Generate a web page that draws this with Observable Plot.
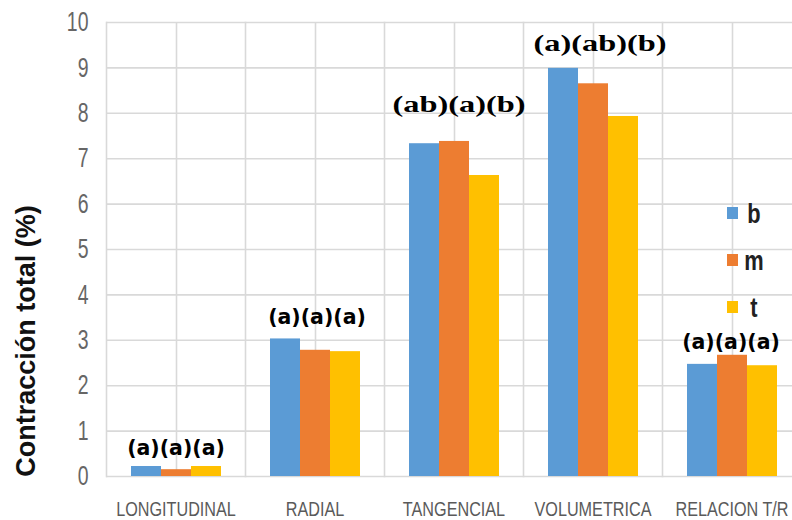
<!DOCTYPE html>
<html>
<head>
<meta charset="utf-8">
<script src="https://cdn.jsdelivr.net/npm/d3@7"></script>
<script src="https://cdn.jsdelivr.net/npm/@observablehq/plot@0.6"></script>
<style>
  body { margin: 0; background: #fff; }
  #chart svg { display: block; }
</style>
</head>
<body>
<div id="chart"></div>
<script>
// Shrinkage by direction, for the three positions in the stem
const categories = ["LONGITUDINAL", "RADIAL", "TANGENCIAL", "VOLUMETRICA", "RELACION T/R"];
const seriesNames = ["b", "m", "t"];
const valuesB = [0.22, 3.03, 7.33, 8.99, 2.47];
const valuesM = [0.15, 2.78, 7.38, 8.65, 2.67];
const valuesT = [0.22, 2.75, 6.63, 7.93, 2.44];
const groupLabels = ["(a)(a)(a)", "(a)(a)(a)", "(ab)(a)(b)", "(a)(ab)(b)", "(a)(a)(a)"];
const yTicks = [0, 1, 2, 3, 4, 5, 6, 7, 8, 9, 10];
const yTitle = "Contracción total (%)";

const seriesColors = ["#5b9bd5", "#ed7d31", "#ffc000"];
const gridColor = "#d9d9d9";

// Font stacks; each one also tags its group so it can be condensed afterwards
const tickFont = "Liberation Sans, Arial, sans-serif";
const catFont = "Arial, Liberation Sans, sans-serif";
const serifFont = "Liberation Serif, Times New Roman, serif";
const sansBoldFont = "DejaVu Sans, Verdana, sans-serif";

const seriesValues = [valuesB, valuesM, valuesT];
const rows = categories.flatMap((category, i) =>
  seriesNames.map((series, j) => ({category, series, value: seriesValues[j][i]}))
);
const groupTops = categories.map((category, i) => ({
  category,
  label: groupLabels[i],
  top: Math.max(valuesB[i], valuesM[i], valuesT[i])
}));

// Hand placement of the significance letters above each group
const labelPlacement = [
  {dx: 0, dy: -18, serif: false},
  {dx: 2, dy: -22, serif: false},
  {dx: 5, dy: -37, serif: true},
  {dx: 7, dy: -25, serif: true},
  {dx: -1, dy: -13, serif: false}
];

const labelMarks = groupTops.map((d, i) => {
  const p = labelPlacement[i];
  return Plot.text([d], {
    fx: "category",
    y: "top",
    text: "label",
    dx: p.dx,
    dy: p.dy,
    fill: "#000",
    fontWeight: "bold",
    fontFamily: p.serif ? serifFont : sansBoldFont,
    fontSize: p.serif ? 24 : 20.5
  });
});

const chart = Plot.plot({
  width: 792,
  height: 520,
  marginLeft: 104,
  marginRight: 0,
  marginTop: 22,
  marginBottom: 44,
  style: {fontFamily: "Liberation Sans, Arial, sans-serif", background: "#fff"},
  fx: {domain: categories, range: [104, 802], padding: 0, axis: null, label: null},
  x: {domain: seriesNames, paddingInner: 0, paddingOuter: 0.75, axis: null},
  y: {domain: [0, 10], axis: null},
  color: {domain: seriesNames, range: seriesColors},
  marks: [
    Plot.gridY(yTicks, {stroke: gridColor, strokeOpacity: 1, strokeWidth: 1.6}),
    Plot.frame({anchor: "left", stroke: gridColor, strokeOpacity: 1, strokeWidth: 1.6}),
    Plot.ruleX(["m"], {stroke: gridColor, strokeOpacity: 1, strokeWidth: 1.6}),
    Plot.barY(rows, {fx: "category", x: "series", y: "value", fill: "series"}),
    Plot.axisY(yTicks, {
      tickSize: 0, tickPadding: 18, label: null,
      fontSize: 27, fontFamily: tickFont, color: "#666"
    }),
    Plot.axisFx({
      anchor: "bottom", tickSize: 0, tickPadding: 25, label: null,
      fontSize: 20.5, fontFamily: catFont, color: "#5a5a5a"
    }),
    ...labelMarks
  ]
});

document.getElementById("chart").appendChild(chart);

const svg = d3.select(chart);

// Scale a text horizontally about its own anchor point;
// a numeric x is folded into the transform, y (often in em) stays as is
function stretchX(node, sx) {
  let t = node.getAttribute("transform") || "";
  const xAttr = node.getAttribute("x");
  if (xAttr !== null && isFinite(+xAttr)) {
    node.removeAttribute("x");
    t = `${t} translate(${+xAttr},0)`;
  }
  node.setAttribute("transform", `${t} scale(${sx},1)`);
}

svg.selectAll(`g[font-family="${tickFont}"] text`).each(function () { stretchX(this, 0.72); });
svg.selectAll(`g[font-family="${catFont}"] text`).each(function () { stretchX(this, 0.79); });
svg.selectAll(`g[font-family="${serifFont}"] text`).each(function () { stretchX(this, 1.35); });

// Rotated axis title
svg.append("text")
  .attr("transform", "translate(35,341) rotate(-90)")
  .attr("text-anchor", "middle")
  .attr("font-family", "Liberation Sans, Arial, sans-serif")
  .attr("font-weight", "bold")
  .attr("font-size", 27)
  .attr("fill", "#111")
  .text(yTitle);

// Legend inside the plot area, on the right
const color = chart.scale("color");
const legend = svg.append("g").attr("transform", "translate(727,213)");
seriesNames.forEach((name, i) => {
  const row = legend.append("g").attr("transform", `translate(0,${i * 47})`);
  row.append("rect")
    .attr("x", 0).attr("y", -6)
    .attr("width", 11).attr("height", 12)
    .attr("fill", color.apply(name));
  const label = row.append("text")
    .attr("x", 27).attr("dy", "0.36em")
    .attr("font-family", "Liberation Sans, Arial, sans-serif")
    .attr("font-weight", "bold")
    .attr("font-size", 28)
    .attr("fill", "#222")
    .text(name);
  stretchX(label.node(), 0.78);
});
</script>
</body>
</html>
